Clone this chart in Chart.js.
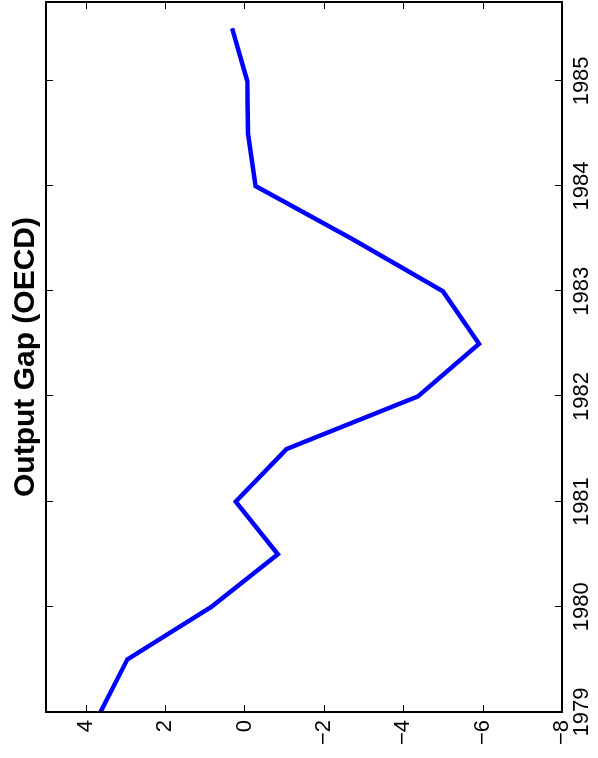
<!DOCTYPE html>
<html><head><meta charset="utf-8">
<script src="https://cdn.jsdelivr.net/npm/chart.js@4"></script>
<style>
html,body{margin:0;padding:0;background:#fff;overflow:hidden;width:598px;height:758px;}
#wrap{position:absolute;left:0;top:0;width:758px;height:598px;transform-origin:0 0;transform:translate(0,758px) rotate(-90deg);}
canvas{display:block;}
</style></head><body>
<div id="wrap"><canvas id="c" width="758" height="598"></canvas></div>
<script>
const titleText = 'Output Gap (OECD)';
const periods = [1979, 1979.5, 1980, 1980.5, 1981, 1981.5, 1982, 1982.5, 1983, 1983.5, 1984, 1984.5, 1985, 1985.5];
const outputGap = [3.63, 2.95, 0.83, -0.84, 0.22, -1.06, -4.37, -5.91, -5.0, -2.70, -0.28, -0.09, -0.07, 0.31];
const yearTicks = [1979, 1980, 1981, 1982, 1983, 1984, 1985];
const gapTicks = [-8, -6, -4, -2, 0, 2, 4];
const yearRange = [1979, 1985.75];
const gapRange = [-8, 5];

const FONT = "'Liberation Sans', Arial, Helvetica, sans-serif";

const frameTicks = {
  id: 'frameTicks',
  afterDraw(chart) {
    const {ctx, chartArea: a, scales: {x, y}} = chart;
    ctx.save();
    ctx.strokeStyle = '#000';
    ctx.lineWidth = 1;
    const TL = 7;
    yearTicks.forEach(v => {
      const px = Math.round(x.getPixelForValue(v)) + 0.5;
      ctx.beginPath();
      ctx.moveTo(px, a.bottom); ctx.lineTo(px, a.bottom - TL);
      ctx.moveTo(px, a.top); ctx.lineTo(px, a.top + TL);
      ctx.stroke();
    });
    gapTicks.forEach(v => {
      const py = Math.round(y.getPixelForValue(v)) + 0.5;
      ctx.beginPath();
      ctx.moveTo(a.left, py); ctx.lineTo(a.left + TL, py);
      ctx.moveTo(a.right, py); ctx.lineTo(a.right - TL, py);
      ctx.stroke();
    });
    ctx.lineWidth = 2;
    ctx.strokeRect(a.left, a.top, a.right - a.left, a.bottom - a.top);
    ctx.fillStyle = '#000';
    ctx.font = 'bold 30px ' + FONT;
    ctx.textAlign = 'center';
    ctx.textBaseline = 'alphabetic';
    ctx.fillText(titleText, (a.left + a.right) / 2, 33.5);
    ctx.restore();
  }
};

new Chart(document.getElementById('c'), {
  type: 'line',
  data: {
    datasets: [{
      data: periods.map((p, i) => ({x: p, y: outputGap[i]})),
      borderColor: '#0000ff',
      borderWidth: 4.5,
      pointRadius: 0,
      tension: 0,
      fill: false,
      borderJoinStyle: 'miter'
    }]
  },
  options: {
    responsive: false,
    animation: false,
    devicePixelRatio: 1,
    layout: {padding: {top: 46, right: 2, left: 0, bottom: 0}},
    plugins: {legend: {display: false}, tooltip: {enabled: false}, title: {display: false}},
    scales: {
      x: {
        type: 'linear',
        min: yearRange[0], max: yearRange[1],
        grid: {display: false, drawTicks: false},
        border: {display: false},
        afterBuildTicks: s => { s.ticks = yearTicks.map(v => ({value: v})); },
        afterFit: s => { s.height = 36; },
        ticks: {
          color: '#000', padding: 7, maxRotation: 0, autoSkip: false,
          font: {family: FONT, size: 22},
          callback: v => String(v)
        }
      },
      y: {
        type: 'linear',
        min: gapRange[0], max: gapRange[1],
        grid: {display: false, drawTicks: false},
        border: {display: false},
        afterBuildTicks: s => { s.ticks = gapTicks.map(v => ({value: v})); },
        afterFit: s => { s.width = 46; },
        ticks: {
          color: '#000', padding: 8, autoSkip: false,
          font: {family: FONT, size: 22},
          callback: v => (v < 0 ? '\u2212' + Math.abs(v) : String(v))
        }
      }
    }
  },
  plugins: [frameTicks]
});
</script>
</body></html>
